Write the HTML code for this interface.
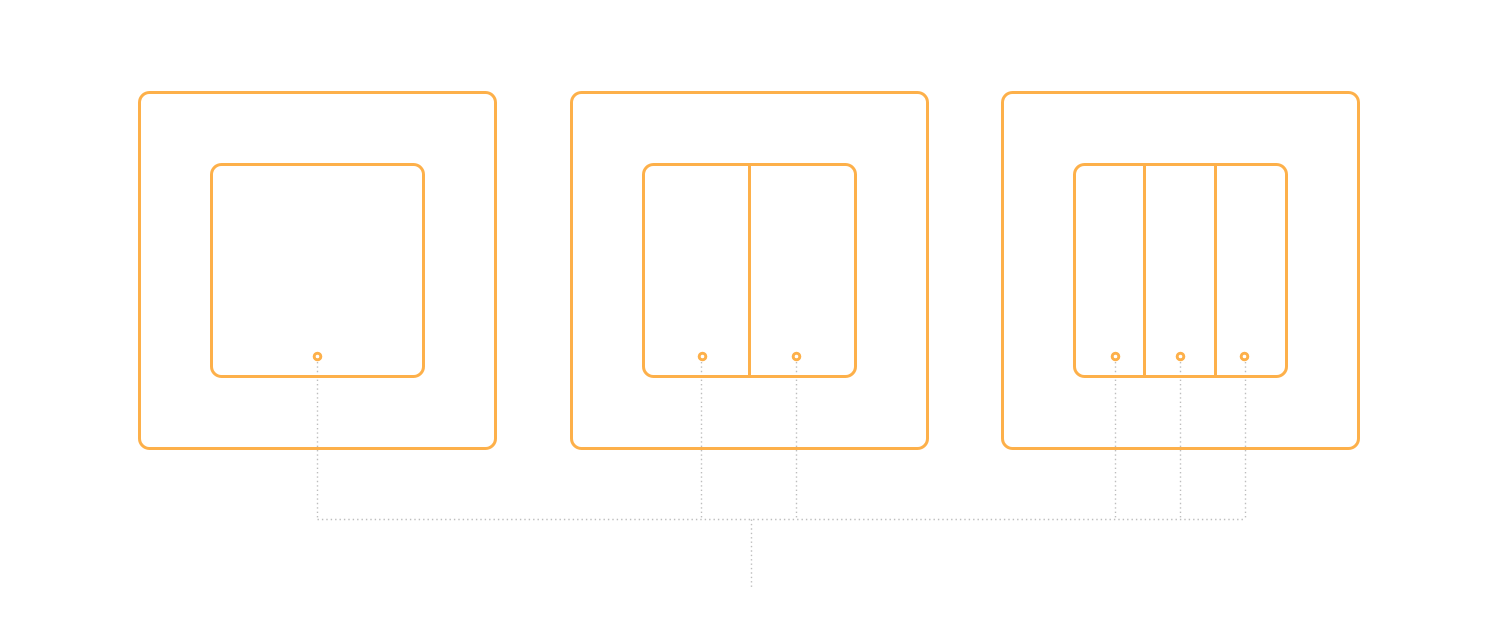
<!DOCTYPE html>
<html><head><meta charset="utf-8"><style>html,body{margin:0;padding:0;background:#fff;}svg{display:block}</style></head>
<body>
<svg width="1500" height="640" viewBox="0 0 1500 640" xmlns="http://www.w3.org/2000/svg">
<g fill="none" stroke="#bdbdbd" stroke-width="1.4" stroke-dasharray="1.4 3">
<line x1="317.5" y1="362" x2="317.5" y2="519.5"/>
<line x1="701.5" y1="362" x2="701.5" y2="519.5"/>
<line x1="796.5" y1="362" x2="796.5" y2="519.5"/>
<line x1="1115.5" y1="362" x2="1115.5" y2="519.5"/>
<line x1="1180.5" y1="362" x2="1180.5" y2="519.5"/>
<line x1="1245.5" y1="362" x2="1245.5" y2="519.5"/>
<line x1="317.5" y1="519.5" x2="1245.5" y2="519.5"/>
<line x1="751.5" y1="519.5" x2="751.5" y2="587"/>
</g>
<g fill="none" stroke="#fdb04a" stroke-width="3">
<rect x="139.5" y="92.5" width="356" height="356" rx="10"/>
<rect x="211.5" y="164.5" width="212" height="212" rx="10"/>
<rect x="571.5" y="92.5" width="356" height="356" rx="10"/>
<rect x="643.5" y="164.5" width="212" height="212" rx="10"/>
<line x1="749.5" y1="164.5" x2="749.5" y2="376.5"/>
<rect x="1002.5" y="92.5" width="356" height="356" rx="10"/>
<rect x="1074.5" y="164.5" width="212" height="212" rx="10"/>
<line x1="1144.5" y1="164.5" x2="1144.5" y2="376.5"/>
<line x1="1215.5" y1="164.5" x2="1215.5" y2="376.5"/>
</g>
<g fill="#fff" stroke="#fdb04a" stroke-width="3">
<circle cx="317.5" cy="356.5" r="3.3"/>
<circle cx="702.5" cy="356.5" r="3.3"/>
<circle cx="796.5" cy="356.5" r="3.3"/>
<circle cx="1115.5" cy="356.5" r="3.3"/>
<circle cx="1180.5" cy="356.5" r="3.3"/>
<circle cx="1244.5" cy="356.5" r="3.3"/>
</g>
</svg>
</body></html>
